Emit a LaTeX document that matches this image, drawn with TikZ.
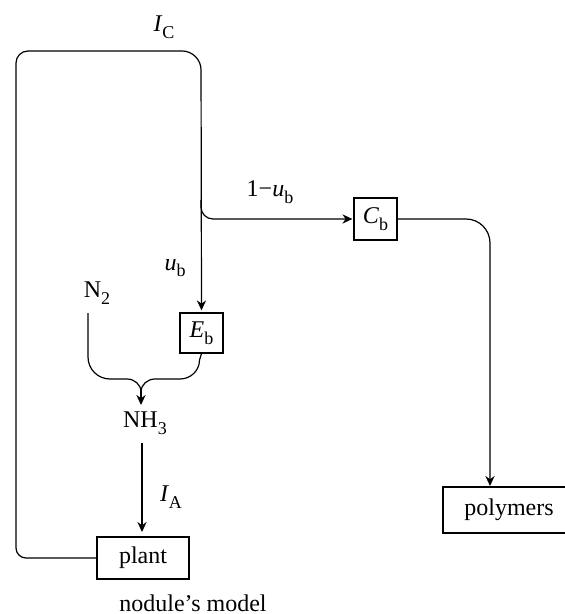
\documentclass[tikz,border=0pt]{standalone}
\usepackage[no-math]{fontspec}
\setmainfont{Liberation Serif}
\usetikzlibrary{arrows.meta}
\newcommand\lsub[1]{\raisebox{-0.28em}{\fontsize{9}{9}\selectfont #1}}
\begin{document}
\begin{tikzpicture}[x=0.5pt,y=-0.5pt,
  font=\fontsize{12}{14}\selectfont,
  line width=0.6pt,
  >={Stealth[length=5pt,width=4.6pt]},
  box/.style={draw,inner sep=0pt},
  lbl/.style={inner sep=0pt}]
\useasboundingbox (0,0) rectangle (565,614);
% boxes
\node[box,minimum width=21.5pt,minimum height=21pt] (Cb) at (375.5,219) {\textit{C}\lsub{b}};
\node[box,minimum width=21.5pt,minimum height=20pt] (Eb) at (201.5,333) {\textit{E}\lsub{b}};
\node[box,minimum width=46pt,minimum height=21pt] (plant) at (143,558) {plant};
\node[box,minimum width=66pt,minimum height=23pt] (poly) at (509,510) {polymers};
% texts
\node[lbl] (N2) at (97,293) {N\lsub{2}};
\node[lbl] (NH3) at (145,423) {NH\lsub{3}};
\node[lbl] (IC) at (164,27) {\textit{I}\lsub{C}};
\node[lbl] (ub) at (175,268) {\textit{u}\lsub{b}};
\node[lbl] (omub) at (270,192) {1−\textit{u}\lsub{b}};
\node[lbl] (IA) at (171,497) {\textit{I}\lsub{A}};
\node[lbl] (cap) at (193,603) {nodule’s model};
% coordinates
\coordinate (br) at (201,200);
\coordinate (pin) at (490,486);
\coordinate (n2s) at (88,313);
\coordinate (nh3in) at (141,405);
\coordinate (nh3out) at (142,443);
\coordinate (plin) at (142,532);
% loop
\draw[->,shorten >=1pt] (plant.west) [rounded corners=5pt] -- (16,558) [rounded corners=6pt] -- (16,51) [rounded corners=9.5pt] -- (201,51) [sharp corners] -- (Eb.north);
% branch to Cb
\draw[->,rounded corners=6pt,shorten >=0.5pt] (br) |- (Cb.west);
% Cb to polymers
\draw[->,rounded corners=12pt] (Cb.east) -| (pin);
% merge into NH3
\draw (n2s) -- (88,357) to[out=-90,in=180] (110,379) -- (127,379) to[out=0,in=90] (141,392);
\draw (Eb.south) -- (199.5,360) to[out=-90,in=0] (180,379) -- (155,379) to[out=180,in=90] (141,392);
\draw[->] (141,391) -- (nh3in);
% NH3 to plant
\draw[->] (nh3out) -- (plin);
\end{tikzpicture}
\end{document}
